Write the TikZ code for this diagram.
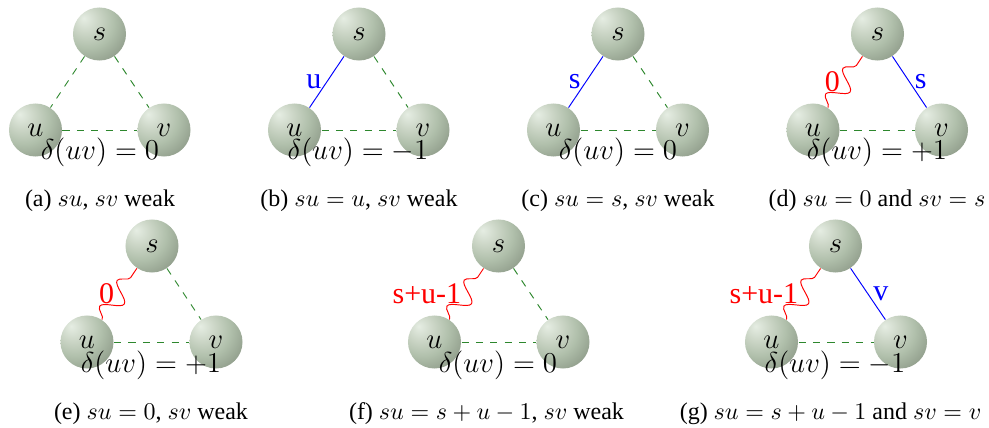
\documentclass[tikz,border=0pt]{standalone}
\usepackage[no-math]{fontspec}
\setmainfont{Liberation Serif}
\usetikzlibrary{decorations.pathmorphing}
\definecolor{weakgreen}{RGB}{45,135,45}
\pgfdeclareradialshading{sageball}{\pgfpoint{-15bp}{15bp}}{%
  rgb(0bp)=(0.90,0.93,0.89);
  rgb(12bp)=(0.80,0.84,0.78);
  rgb(25bp)=(0.69,0.75,0.67);
  rgb(40bp)=(0.56,0.61,0.54);
  rgb(55bp)=(0.46,0.51,0.45);
  rgb(70bp)=(0.40,0.45,0.39);
  rgb(100bp)=(0.40,0.45,0.39)}
\begin{document}
\begin{tikzpicture}[x=0.4167pt,y=-0.4167pt,
  ballnode/.style={circle, inner sep=0pt, minimum size=22.1pt, shading=sageball, font=\fontsize{12}{14}\selectfont},
  weak/.style={dashed, weakgreen},
  strongu/.style={blue},
  zeroedge/.style={red, decorate, decoration={snake, amplitude=4pt, segment length=13pt}},
  elabel/.style={font=\fontsize{12.5}{15}\selectfont, inner sep=2pt},
  dlabel/.style={font=\fontsize{12.5}{15}\selectfont, inner sep=0pt},
  captext/.style={font=\fontsize{10}{12}\selectfont, inner sep=0pt}]
\useasboundingbox (0,0) rectangle (989,428);

% (a)
\node[ballnode] (sa) at (99.5,34) {$s$};
\node[ballnode] (ua) at (35.5,130) {$u$};
\node[ballnode] (va) at (164,130) {$v$};
\draw[weak] (sa) -- (ua);
\draw[weak] (sa) -- (va);
\draw[weak] (ua) -- (va);
\node[dlabel] (da) at (100,152) {$\delta(uv)=0$};
\node[captext] (ca) at (100,201) {(a) $su$, $sv$ weak};

% (b)
\node[ballnode] (sb) at (359,34) {$s$};
\node[ballnode] (ub) at (294.5,130) {$u$};
\node[ballnode] (vb) at (423,130) {$v$};
\draw[strongu] (sb) -- node[elabel, left, blue] {u} (ub);
\draw[weak] (sb) -- (vb);
\draw[weak] (ub) -- (vb);
\node[dlabel] (db) at (358,152) {$\delta(uv)=-1$};
\node[captext] (cb) at (359,201) {(b) $su=u$, $sv$ weak};

% (c)
\node[ballnode] (sc) at (618,34) {$s$};
\node[ballnode] (uc) at (553.5,130) {$u$};
\node[ballnode] (vc) at (682.5,130) {$v$};
\draw[strongu] (sc) -- node[elabel, left, blue] {s} (uc);
\draw[weak] (sc) -- (vc);
\draw[weak] (uc) -- (vc);
\node[dlabel] (dc) at (618,152) {$\delta(uv)=0$};
\node[captext] (cc) at (618,201) {(c) $su=s$, $sv$ weak};

% (d)
\node[ballnode] (sd) at (877.5,34) {$s$};
\node[ballnode] (ud) at (813,130) {$u$};
\node[ballnode] (vd) at (941.5,130) {$v$};
\draw[zeroedge] (ud) -- node[elabel, left, red] {0} (sd);
\draw[strongu] (sd) -- node[elabel, right, blue] {s} (vd);
\draw[weak] (ud) -- (vd);
\node[dlabel] (dd) at (877,152) {$\delta(uv)=+1$};
\node[captext] (cd) at (877,201) {(d) $su=0$ and $sv=s$};

% (e)
\node[ballnode] (se) at (152,246) {$s$};
\node[ballnode] (ue) at (87,342) {$u$};
\node[ballnode] (ve) at (216,342) {$v$};
\draw[zeroedge] (ue) -- node[elabel, left, red] {0} (se);
\draw[weak] (se) -- (ve);
\draw[weak] (ue) -- (ve);
\node[dlabel] (de) at (151,365) {$\delta(uv)=+1$};
\node[captext] (ce) at (151,414) {(e) $su=0$, $sv$ weak};

% (f)
\node[ballnode] (sf) at (498.5,246) {$s$};
\node[ballnode] (uf) at (434.5,342) {$u$};
\node[ballnode] (vf) at (563,342) {$v$};
\draw[zeroedge] (uf) -- node[elabel, left, red] {s+u-1} (sf);
\draw[weak] (sf) -- (vf);
\draw[weak] (uf) -- (vf);
\node[dlabel] (df) at (498,365) {$\delta(uv)=0$};
\node[captext] (cf) at (486.5,414) {(f) $su=s+u-1$, $sv$ weak};

% (g)
\node[ballnode] (sg) at (835.5,246) {$s$};
\node[ballnode] (ug) at (771.5,342) {$u$};
\node[ballnode] (vg) at (900.5,342) {$v$};
\draw[zeroedge] (ug) -- node[elabel, left, red] {s+u-1} (sg);
\draw[strongu] (sg) -- node[elabel, right, blue] {v} (vg);
\draw[weak] (ug) -- (vg);
\node[dlabel] (dg) at (835,365) {$\delta(uv)=-1$};
\node[captext] (cg) at (830.5,414) {(g) $su=s+u-1$ and $sv=v$};
\end{tikzpicture}
\end{document}
